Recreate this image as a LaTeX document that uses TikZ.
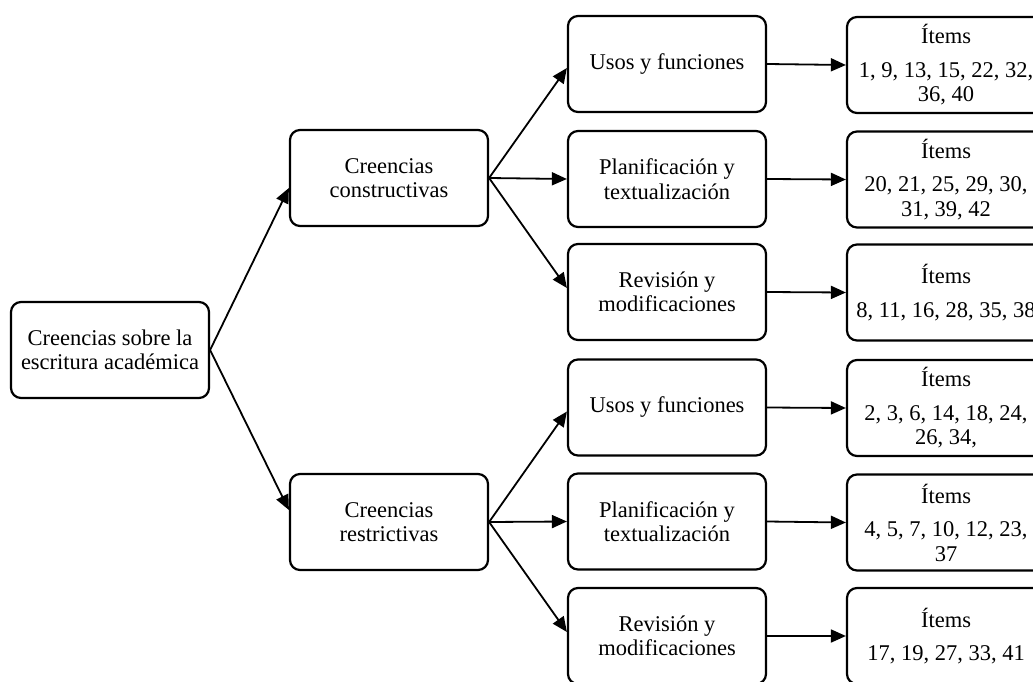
\documentclass[tikz,border=0pt]{standalone}
\usepackage{fontspec}
\setmainfont{Liberation Serif}
\usetikzlibrary{arrows.meta}
\begin{document}
\begin{tikzpicture}[x=1pt,y=-1pt,
  box/.style={draw,line width=2.2pt,rounded corners=10pt,minimum width=198pt,minimum height=96pt,align=center,inner sep=0pt,font=\fontsize{22.5}{24.5}\selectfont},
  arr/.style={line width=1.8pt,-{Triangle[length=15pt,width=13pt]}}]
\useasboundingbox (0,0) rectangle (1033,682);
\clip (0,0) rectangle (1033,682);
\node[box] (root) at (110,350) {Creencias sobre la\\escritura académica};
\node[box] (c1) at (389,178) {Creencias\\constructivas};
\node[box] (c2) at (389,522) {Creencias\\restrictivas};
\node[box] (u1) at (667,64) {Usos y funciones};
\node[box] (p1) at (667,179) {Planificación y\\textualización};
\node[box] (r1) at (667,292) {Revisión y\\modificaciones};
\node[box] (u2) at (667,407.5) {Usos y funciones};
\node[box] (p2) at (667,521.5) {Planificación y\\textualización};
\node[box] (r2) at (667,636) {Revisión y\\modificaciones};
\node[box] (i1) at (946,65) {Ítems\\[9pt]1, 9, 13, 15, 22, 32,\\36, 40};
\node[box] (i2) at (946,179.5) {Ítems\\[9pt]20, 21, 25, 29, 30,\\31, 39, 42};
\node[box] (i3) at (946,292.5) {Ítems\\[9pt]8, 11, 16, 28, 35, 38};
\node[box] (i4) at (946,408) {Ítems\\[9pt]2, 3, 6, 14, 18, 24,\\26, 34,};
\node[box] (i5) at (946,522.5) {Ítems\\[9pt]4, 5, 7, 10, 12, 23,\\37};
\node[box] (i6) at (946,636) {Ítems\\[9pt]17, 19, 27, 33, 41};
\draw[arr] (root.east) -- ([yshift=-10pt]c1.west);
\draw[arr] (root.east) -- ([yshift=12pt]c2.west);
\draw[arr] (c1.east) -- ([yshift=-4pt]u1.west);
\draw[arr] (c1.east) -- (p1.west);
\draw[arr] (c1.east) -- ([yshift=4pt]r1.west);
\draw[arr] (c2.east) -- ([yshift=-4pt]u2.west);
\draw[arr] (c2.east) -- (p2.west);
\draw[arr] (c2.east) -- ([yshift=4pt]r2.west);
\draw[arr] (u1.east) -- (i1.west);
\draw[arr] (p1.east) -- (i2.west);
\draw[arr] (r1.east) -- (i3.west);
\draw[arr] (u2.east) -- (i4.west);
\draw[arr] (p2.east) -- (i5.west);
\draw[arr] (r2.east) -- (i6.west);
\end{tikzpicture}
\end{document}
